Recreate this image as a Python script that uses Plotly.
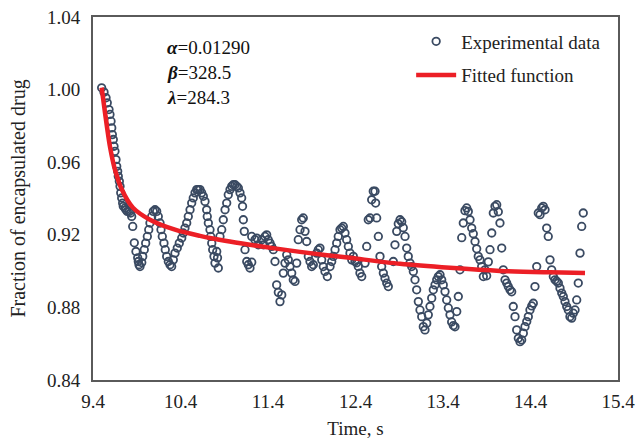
import plotly.graph_objects as go

time_s = [
    9.499, 9.526, 9.549, 9.563, 9.583, 9.594, 9.606, 9.614, 9.621, 9.632,
    9.640, 9.651, 9.663, 9.671, 9.682, 9.689, 9.701, 9.709, 9.717, 9.728,
    9.739, 9.746, 9.766, 9.777, 9.792, 9.815, 9.831, 9.842, 9.854,
    9.872, 9.891, 9.911, 9.918, 9.926, 9.937,
    9.957, 9.968, 9.986, 10.002, 10.021, 10.037, 10.051, 10.071, 10.089, 10.109,
    10.128, 10.146, 10.166, 10.177, 10.192, 10.211, 10.226, 10.242, 10.261, 10.280, 10.299,
    10.318, 10.337, 10.363, 10.386, 10.414, 10.432, 10.451, 10.471, 10.489, 10.509,
    10.528, 10.546, 10.566, 10.585, 10.603,
    10.623, 10.642, 10.661, 10.680, 10.699, 10.706, 10.718, 10.737, 10.745, 10.757,
    10.768, 10.783, 10.794, 10.814, 10.832, 10.823,
    10.851, 10.871, 10.889, 10.909, 10.928, 10.946, 10.966, 10.985, 11.003, 11.023,
    11.042, 11.061, 11.080, 11.099, 11.109, 11.118, 11.129, 11.137, 11.157, 11.175,
    11.194, 11.214,
    11.214, 11.251, 11.271, 11.289, 11.328, 11.348, 11.366, 11.385, 11.403, 11.423,
    11.442, 11.461, 11.480,
    11.499, 11.518, 11.537, 11.557,
    11.575, 11.594, 11.614, 11.632, 11.651, 11.671, 11.689, 11.709, 11.728,
    11.746, 11.766, 11.785, 11.803, 11.823, 11.842,
    11.861, 11.880, 11.899, 11.918, 11.957, 11.975, 11.994, 12.014, 12.032, 12.051, 12.078,
    12.109, 12.128, 12.146, 12.166, 12.185, 12.203, 12.223, 12.242, 12.261,
    12.280, 12.299, 12.318, 12.337, 12.357, 12.375, 12.394, 12.414, 12.432, 12.451, 12.471,
    12.509, 12.528, 12.546, 12.566, 12.585, 12.603, 12.623, 12.630, 12.642,
    12.661, 12.680, 12.699, 12.718, 12.737, 12.757, 12.775,
    12.832, 12.851, 12.871, 12.889, 12.909, 12.928, 12.946, 12.966, 12.985, 13.003,
    13.023, 13.042, 13.061, 13.080,
    13.099, 13.118, 13.137, 13.157, 13.175, 13.194,
    13.214, 13.232, 13.251, 13.271, 13.289, 13.309, 13.328, 13.346, 13.366,
    13.385, 13.403, 13.423, 13.442, 13.461, 13.480, 13.499, 13.518, 13.537,
    13.557, 13.575, 13.594, 13.614, 13.632, 13.651, 13.671, 13.689, 13.709, 13.728,
    13.746, 13.766, 13.785, 13.803, 13.823, 13.842, 13.861, 13.880, 13.899,
    13.918, 13.937, 13.957, 13.975, 13.994, 14.014, 14.032, 14.051, 14.071, 14.089,
    14.109, 14.128, 14.146, 14.166, 14.185, 14.203, 14.223, 14.242, 14.261, 14.280,
    14.299, 14.318, 14.337, 14.357, 14.375, 14.394, 14.414, 14.432, 14.451, 14.471,
    14.489, 14.509, 14.528, 14.546, 14.566, 14.585, 14.603, 14.623, 14.642, 14.661,
    14.680, 14.699, 14.718, 14.737, 14.757, 14.775, 14.794, 14.814, 14.832, 14.851,
    14.871, 14.889, 14.909, 14.928, 14.946, 14.966, 14.985, 15.003,
]
fraction = [
    1.0010, 0.9986, 0.9955, 0.9927, 0.9890, 0.9863, 0.9826, 0.9789, 0.9752, 0.9725,
    0.9688, 0.9660, 0.9614, 0.9577, 0.9550, 0.9522, 0.9495, 0.9467, 0.9431, 0.9403,
    0.9375, 0.9357, 0.9348, 0.9338, 0.9329, 0.9329, 0.9320, 0.9301, 0.9246,
    0.9156, 0.9108, 0.9073, 0.9053, 0.9035, 0.9025,
    0.9047, 0.9081, 0.9118, 0.9154, 0.9191, 0.9228, 0.9265, 0.9301, 0.9329, 0.9338,
    0.9329, 0.9301, 0.9265, 0.9228, 0.9191, 0.9154, 0.9118, 0.9081, 0.9053, 0.9035, 0.9025,
    0.9062, 0.9099, 0.9127, 0.9154, 0.9182, 0.9210, 0.9237, 0.9265, 0.9301, 0.9338,
    0.9375, 0.9403, 0.9431, 0.9449, 0.9449,
    0.9449, 0.9431, 0.9412, 0.9384, 0.9338, 0.9301, 0.9265, 0.9228, 0.9191, 0.9154,
    0.9118, 0.9081, 0.9044, 0.9108, 0.9017, 0.9073,
    0.9191, 0.9228, 0.9283, 0.9338, 0.9375, 0.9421, 0.9449, 0.9467, 0.9476, 0.9476,
    0.9467, 0.9458, 0.9431, 0.9403, 0.9357, 0.9283, 0.9219, 0.9118, 0.9053, 0.9035,
    0.9017, 0.9049,
    0.9191, 0.9173, 0.9182, 0.9145, 0.9173, 0.9145, 0.9191, 0.9200, 0.9173, 0.9154,
    0.9136, 0.9118, 0.9053,
    0.8924, 0.8883, 0.8832, 0.8869,
    0.8989, 0.9044, 0.9090, 0.9062, 0.9025, 0.8989, 0.8952, 0.8943, 0.9044,
    0.9173, 0.9228, 0.9283, 0.9293, 0.9219, 0.9163,
    0.9081, 0.9053, 0.9025, 0.9035, 0.9099, 0.9118, 0.9127, 0.9062, 0.9025, 0.8998, 0.8970,
    0.9025, 0.9053, 0.9081, 0.9118, 0.9154, 0.9191, 0.9228, 0.9237, 0.9246,
    0.9210, 0.9173, 0.9136, 0.9099, 0.9062, 0.9081, 0.9053, 0.9046, 0.9025, 0.8989, 0.8970,
    0.9044, 0.9136, 0.9283, 0.9293, 0.9393, 0.9440, 0.9440, 0.9375, 0.9293,
    0.9191, 0.9081, 0.9025, 0.8989, 0.8961, 0.8934, 0.8915,
    0.9053, 0.9145, 0.9219, 0.9261, 0.9283, 0.9272, 0.9239, 0.9191, 0.9127, 0.9081,
    0.9044, 0.9025, 0.8998, 0.8952,
    0.8897, 0.8832, 0.8786, 0.8749, 0.8694, 0.8676,
    0.8713, 0.8759, 0.8805, 0.8851, 0.8897, 0.8924, 0.8952, 0.8970, 0.8980,
    0.8952, 0.8924, 0.8887, 0.8841, 0.8797, 0.8759, 0.8720, 0.8700, 0.8693,
    0.8777, 0.8860, 0.9007, 0.9184, 0.9265, 0.9333, 0.9348, 0.9329, 0.9283, 0.9237,
    0.9206, 0.9163, 0.9123, 0.9081, 0.9062, 0.9025, 0.8970, 0.9007, 0.8974,
    0.9051, 0.9118, 0.9210, 0.9320, 0.9357, 0.9366, 0.9327, 0.9265, 0.9127, 0.9007,
    0.8952, 0.8934, 0.8915, 0.8897, 0.8886, 0.8805, 0.8749, 0.8676, 0.8630, 0.8611,
    0.8621, 0.8658, 0.8694, 0.8722, 0.8749, 0.8786, 0.8808, 0.8823, 0.8915, 0.9025,
    0.9320, 0.9311, 0.9348, 0.9357, 0.9338, 0.9237, 0.9191, 0.9062, 0.9007, 0.8970,
    0.8952, 0.8944, 0.8934, 0.8906, 0.8879, 0.8860, 0.8832, 0.8805, 0.8786, 0.8749,
    0.8741, 0.8768, 0.8786, 0.8841, 0.8934, 0.9099, 0.9246, 0.9320,
]

# Fitted function
fit_time = [9.499, 9.537, 9.594, 9.651, 9.731, 9.857, 10.051, 10.337, 10.623,
            10.909, 11.194, 11.766, 12.337, 12.909, 13.480, 14.051, 14.623, 15.023]
fit_fraction = [1.0011, 0.9873, 0.9686, 0.9559, 0.9448, 0.9349, 0.9283, 0.9228, 0.9194,
                0.9167, 0.9145, 0.9106, 0.9073, 0.9040, 0.9018, 0.9001, 0.8993, 0.8989]

x_ticks = [9.4, 10.4, 11.4, 12.4, 13.4, 14.4, 15.4]
y_ticks = [0.84, 0.88, 0.92, 0.96, 1.00, 1.04]
params = ["<b><i>α</i></b>=0.01290", "<b><i>β</i></b>=328.5", "<b><i>λ</i></b>=284.3"]

FONT = "Liberation Serif"

fig = go.Figure()
fig.add_trace(go.Scatter(
    x=time_s, y=fraction, mode="markers", name="Experimental data",
    legendgroup="a",
    marker=dict(symbol="circle-open", size=7.5, color="#3a4a62", line=dict(width=1.8)),
))
fig.add_trace(go.Scatter(
    x=fit_time, y=fit_fraction, mode="lines", name="Fitted function",
    legendgroup="b",
    line=dict(color="#ec1f26", width=4.5, shape="spline", smoothing=0.8),
))

param_y = [0.915, 0.847, 0.779]
for txt, py in zip(params, param_y):
    fig.add_annotation(x=0.137, y=py, xref="paper", yref="paper", text=txt,
                       showarrow=False, xanchor="left", yanchor="middle",
                       font=dict(family=FONT, size=19, color="#111"))

fig.update_layout(
    width=636, height=439,
    margin=dict(l=93, r=18, t=17, b=59),
    paper_bgcolor="white", plot_bgcolor="white",
    font=dict(family=FONT, size=19, color="#222"),
    showlegend=True,
    legend=dict(x=0.606, y=0.985, xanchor="left", yanchor="top",
                bgcolor="rgba(0,0,0,0)", font=dict(family=FONT, size=19, color="#222"),
                tracegroupgap=6, itemwidth=40),
    xaxis=dict(range=[9.4, 15.4], tickvals=x_ticks, ticktext=[f"{v:.1f}" for v in x_ticks],
               showgrid=False, zeroline=False, showline=True, linecolor="#5a5a5a",
               linewidth=2, mirror=True, ticks="", ticklabelstandoff=3, automargin=False,
               tickfont=dict(family=FONT, size=19),
               title=dict(text="Time, s", font=dict(family=FONT, size=19), standoff=15)),
    yaxis=dict(range=[0.84, 1.04], tickvals=y_ticks, ticktext=[f"{v:.2f}" for v in y_ticks],
               showgrid=False, zeroline=False, showline=True, linecolor="#5a5a5a",
               linewidth=2, mirror=True, ticks="", ticklabelstandoff=7, automargin=False,
               tickfont=dict(family=FONT, size=19),
               title=dict(text="Fraction of encapsulated drug", font=dict(family=FONT, size=20),
                          standoff=16)),
)

fig.write_html("out.html")
